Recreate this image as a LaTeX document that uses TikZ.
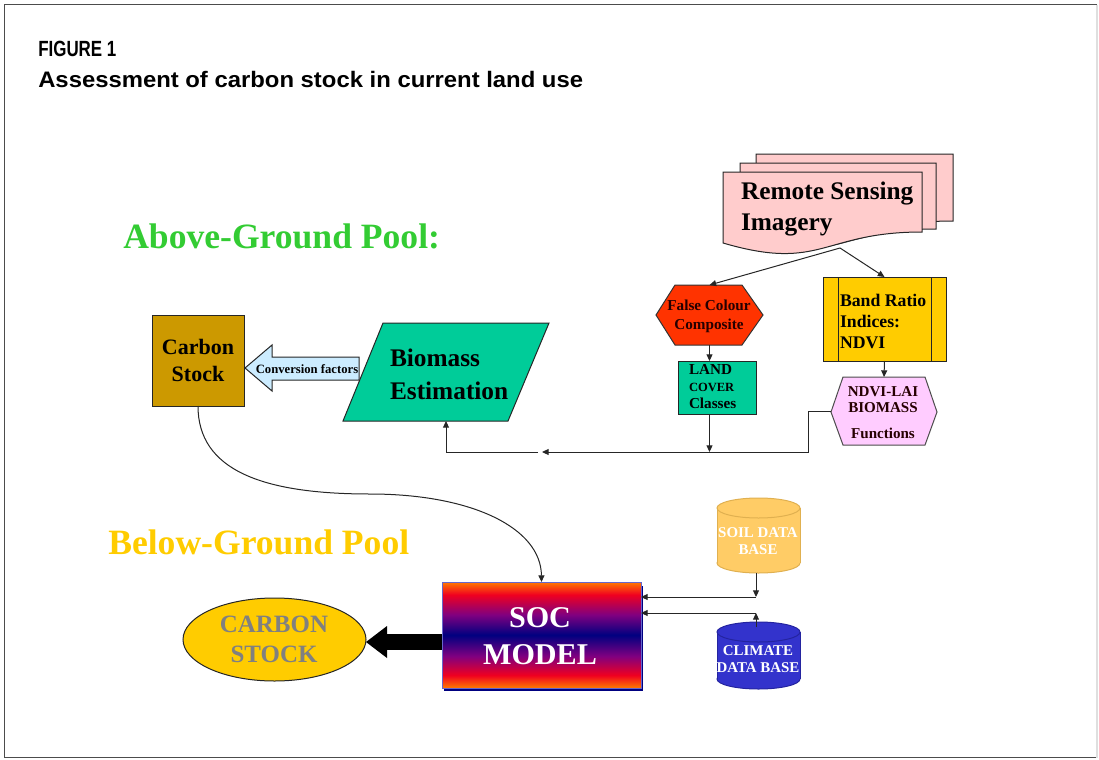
\documentclass[tikz,border=0pt]{standalone}
\usepackage{fontspec}
\usepackage{graphicx}
\setmainfont{Liberation Serif}
\newfontfamily\arialf{Liberation Sans}
\usetikzlibrary{arrows.meta,shapes.geometric,calc}
\definecolor{agreen}{HTML}{33CC33}
\definecolor{bgold}{HTML}{FFCC00}
\definecolor{cstock}{HTML}{CC9900}
\definecolor{convblue}{HTML}{CCECFF}
\definecolor{biogreen}{HTML}{00CC99}
\definecolor{rspink}{HTML}{FFCCCC}
\definecolor{fccred}{HTML}{FF3300}
\definecolor{ndvipink}{HTML}{FFCCFF}
\definecolor{soilfill}{HTML}{FFCC66}
\definecolor{soildraw}{HTML}{E0B050}
\definecolor{climfill}{HTML}{3333CC}
\definecolor{climdraw}{HTML}{2424A0}
\definecolor{stocktext}{HTML}{808080}
\definecolor{socorange}{HTML}{FF7A00}
\definecolor{socred}{HTML}{F00020}
\definecolor{socpurple}{HTML}{800080}
\definecolor{socnavy}{HTML}{000080}
\definecolor{socline}{HTML}{6666CC}
\pgfdeclareverticalshading{socshade}{100bp}{color(0bp)=(socorange); color(25bp)=(socorange); color(31bp)=(socred); color(40bp)=(socpurple); color(50bp)=(socnavy); color(59.5bp)=(socpurple); color(69bp)=(socred); color(75bp)=(socorange); color(100bp)=(socorange)}
\tikzset{
  conn/.style={draw=black!85, line width=0.75pt, -{Triangle[length=5pt,width=4.5pt]}},
  plainline/.style={draw=black!85, line width=0.75pt},
  outl/.style={draw=black!85, line width=0.75pt},
  bbox/.style={inner sep=0pt, outer sep=0pt},
  lbl/.style={inner sep=0pt, outer sep=0pt, font=\bfseries},
}
\begin{document}
\begin{tikzpicture}[x=0.75pt,y=-0.75pt]
\useasboundingbox (0,0) rectangle (1099,760);
% frame
\draw[gray!60!black, line width=1pt] (1097,4.5) -- (4.5,4.5) -- (4.5,757.5) -- (1097,757.5);
\draw[gray!25, line width=1pt] (1097,4.5) -- (1097,757.5);

% titles
\node[anchor=base west, inner sep=0pt, font=\arialf\bfseries\fontsize{16.5}{18}\selectfont] (fig) at (38,56) {\scalebox{0.77}[1]{FIGURE 1}};
\node[anchor=base west, inner sep=0pt, font=\arialf\bfseries\fontsize{16.8}{19}\selectfont] (cap) at (38,87) {\scalebox{1.065}[1]{Assessment of carbon stock in current land use}};

\node[anchor=base west, inner sep=0pt, text=agreen, font=\bfseries\fontsize{26.7}{32}\selectfont] (ag) at (123,248) {Above-Ground Pool:};
\node[anchor=base west, inner sep=0pt, text=bgold, font=\bfseries\fontsize{26.7}{32}\selectfont] (bg) at (108,554) {Below-Ground Pool};

% Remote sensing imagery (multi-document)
\filldraw[fill=rspink, outl] (756,154) -- (953,154) -- (953,221) .. controls (853,221) and (853,259) .. (756,230) -- cycle;
\filldraw[fill=rspink, outl] (740,163) -- (936,163) -- (936,229) .. controls (836,229) and (836,267) .. (740,238) -- cycle;
\filldraw[fill=rspink, outl] (723,172) -- (922,172) -- (922,232) .. controls (822,232) and (822,272) .. (723,243) -- cycle;
\node[lbl, anchor=west, align=left, font=\bfseries\fontsize{19}{23.25}\selectfont] (rs) at (741,209) {Remote Sensing\\Imagery};
\coordinate (rsb) at (840,248);

% False colour composite hexagon
\filldraw[fill=fccred, draw=black!80, line width=0.75pt] (656,315) -- (675,285) -- (742,285) -- (763,315) -- (742,345) -- (675,345) -- cycle;
\node[bbox, minimum width=80.25pt, minimum height=45pt] (fcc) at (709.5,315) {};
\node[lbl, align=center, text=black!85!red, font=\bfseries\fontsize{11.4}{14.25}\selectfont] (fcct) at (709,316) {False Colour\\Composite};

% Land cover box
\node[bbox, draw=black!85, line width=0.75pt, fill=biogreen, minimum width=58.5pt, minimum height=39.75pt] (lc) at (717,387.5) {};
\node[lbl, anchor=west, align=left, font=\bfseries\fontsize{11.4}{12.75}\selectfont] (lct) at (689,387) {LAND\\{\fontsize{9.4}{12.75}\selectfont COVER}\\Classes};

% Band ratio box
\node[bbox, draw=black!85, line width=0.75pt, fill=bgold, minimum width=92.25pt, minimum height=63pt] (band) at (884.5,319) {};
\draw[plainline] (838,277) -- (838,361);
\draw[plainline] (931,277) -- (931,361);
\node[lbl, anchor=west, align=left, font=\bfseries\fontsize{13.3}{15.75}\selectfont] (bandt) at (840,321) {Band Ratio\\Indices:\\NDVI};

% NDVI hexagon
\filldraw[fill=ndvipink, draw=black!70, line width=0.75pt] (831,412) -- (843,377) -- (925,377) -- (937,412) -- (925,445) -- (843,445) -- cycle;
\node[bbox, minimum width=79.5pt, minimum height=51pt] (ndvi) at (884,411) {};
\node[lbl, align=center, text=black!85!red, font=\bfseries\fontsize{11.3}{12}\selectfont] (ndvit) at (883,413) {NDVI-LAI\\BIOMASS\\[7.5pt]Functions};

% Biomass estimation parallelogram
\filldraw[fill=biogreen, outl] (343,421) -- (383,323) -- (549,323) -- (508,421) -- cycle;
\node[bbox, minimum width=154.5pt, minimum height=73.5pt] (bio) at (446,372) {};
\node[lbl, anchor=west, align=left, font=\bfseries\fontsize{19}{24.75}\selectfont] (biot) at (390,374) {Biomass\\Estimation};

% Carbon stock box
\node[bbox, draw=black!85, line width=0.75pt, fill=cstock, minimum width=69pt, minimum height=68.25pt, align=center, font=\bfseries\fontsize{16.5}{20.25}\selectfont] (carbon) at (198,360.5) {Carbon\\Stock};

% Conversion factors block arrow
\filldraw[fill=convblue, outl] (245,368) -- (272,345) -- (272,357) -- (359,357) -- (359,380) -- (272,380) -- (272,391) -- cycle;
\node[lbl, font=\bfseries\fontsize{9.5}{11}\selectfont] (conv) at (307,369.5) {Conversion factors};

% SOC model
\fill[socnavy] (444,586) rectangle (643,690.5);
\node[bbox, shade, shading=socshade, draw=socline, line width=0.75pt, minimum width=149.25pt, minimum height=79.5pt] (soc) at (541.5,635) {};
\node[lbl, align=center, text=white, font=\bfseries\fontsize{22.6}{27.75}\selectfont] (soct) at (540,636.5) {SOC\\MODEL};

% Carbon stock ellipse
\node[ellipse, bbox, draw=black!85, line width=0.75pt, fill=bgold, minimum width=137.25pt, minimum height=62.25pt] (cst) at (274.5,639.5) {};
\node[lbl, align=center, text=stocktext, font=\bfseries\fontsize{18.7}{22.5}\selectfont] (cstt) at (274,639.7) {CARBON\\STOCK};

% Soil data base cylinder
\filldraw[fill=soilfill, draw=soildraw, line width=0.75pt] (758.5,563) ellipse [x radius=41.5, y radius=10];
\fill[soilfill] (717,508) rectangle (800,563);
\draw[soildraw, line width=0.75pt] (717,508) -- (717,563) (800,508) -- (800,563);
\filldraw[fill=soilfill, draw=soildraw, line width=0.75pt] (758.5,508) ellipse [x radius=41.5, y radius=10];
\node[bbox, minimum width=62.25pt, minimum height=56.25pt] (soil) at (758.5,535.5) {};
\node[lbl, align=center, text=white, font=\bfseries\fontsize{11.2}{12.75}\selectfont] (soilt) at (758,541.5) {SOIL DATA\\BASE};

% Climate data base cylinder
\filldraw[fill=climfill, draw=climdraw, line width=0.75pt] (758.5,679) ellipse [x radius=41.5, y radius=10];
\fill[climfill] (717,632) rectangle (800,679);
\draw[climdraw, line width=0.75pt] (717,632) -- (717,679) (800,632) -- (800,679);
\filldraw[fill=climfill, draw=climdraw, line width=0.75pt] (758.5,632) ellipse [x radius=41.5, y radius=10];
\node[bbox, minimum width=62.25pt, minimum height=50.25pt] (clim) at (758.5,655.5) {};
\node[lbl, align=center, text=white, font=\bfseries\fontsize{11.2}{12.75}\selectfont] (climt) at (758,659.5) {CLIMATE\\DATA BASE};

% connectors
\draw[conn] (rsb) -- (fcc.north);
\draw[conn] (rsb) -- (band.north);
\draw[conn] (fcc.south) -- (fcc.south |- lc.north);
\draw[conn] (band.south) -- (ndvi.north);
\coordinate (k1) at (808,452);
\coordinate (k2) at (542,452);
\coordinate (k3) at (538,452);
\draw[conn] (ndvi.west) -| (k1) -- (k2);
\draw[conn] (k3) -| (bio.south);
\draw[conn] (fcc.south |- lc.south) -- (fcc.south |- k1);
\draw[conn] (carbon.south) .. controls (198,470) and (262,494) .. (370,494) .. controls (472,494) and (541,528) .. (soc.north);
\coordinate (sj) at (756,597);
\coordinate (cj) at (756,613);
\coordinate (ctop) at (756,627);
\draw[conn] (soil.south -| sj) -- (sj);
\draw[conn] (sj) -- (sj -| soc.east);
\draw[conn] (ctop) -- (cj);
\draw[conn] (cj) -- (cj -| soc.east);
\coordinate (ya) at (0,642);
\draw[black, line width=12pt, -{Triangle[length=15.75pt,width=24pt,line width=0pt]}] (soc.west |- ya) -- (cst.east |- ya);
\end{tikzpicture}
\end{document}
